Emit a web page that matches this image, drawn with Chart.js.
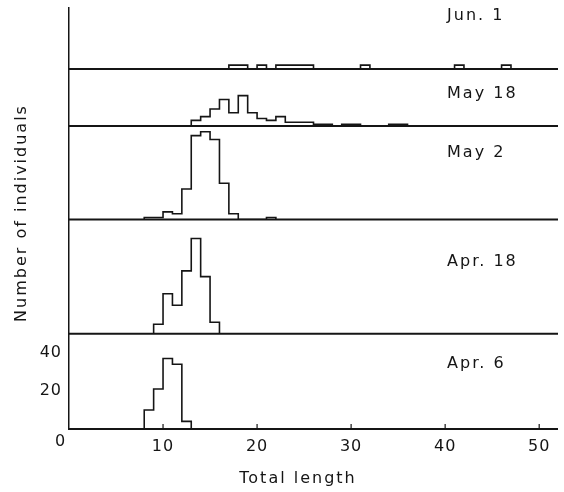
<!DOCTYPE html>
<html>
<head>
<meta charset="utf-8">
<script src="https://cdn.jsdelivr.net/npm/chart.js@4.4.1/dist/chart.umd.min.js"></script>
<style>
  body { margin: 0; background: #fff; }
  #wrap { width: 564px; height: 492px; }
</style>
</head>
<body>
<div id="wrap"><canvas id="lengthChart"></canvas></div>
<script>
// Length frequency panels, top to bottom
const panelNames = ["Jun. 1", "May 18", "May 2", "Apr. 18", "Apr. 6"];
const panelIds = ["yJun1", "yMay18", "yMay2", "yApr18", "yApr6"];
// first bin (total length) of each panel, bins are 1 unit wide
const binStarts = [17, 13, 8, 9, 8];
const jun1Counts = [2, 2, 0, 2, 0, 2, 2, 2, 2, 0, 0, 0, 0, 0, 2, 0, 0, 0, 0, 0, 0, 0, 0, 0, 2, 0, 0, 0, 0, 2];
const may18Counts = [3, 5, 9, 14, 7, 16, 7, 4, 3, 5, 2, 2, 2, 1, 1, 0, 1, 1, 0, 0, 0, 1, 1];
const may2Counts = [1, 1, 4, 3, 16, 44, 46, 42, 19, 3, 0, 0, 0, 1];
const apr18Counts = [5, 21, 15, 33, 50, 30, 6];
const apr6Counts = [10, 21, 37, 34, 4];
const panelCounts = [jun1Counts, may18Counts, may2Counts, apr18Counts, apr6Counts];
// vertical range of each panel (same scale for all)
const panelMax = [32, 30, 49, 60, 50];
const xTicks = [0, 10, 20, 30, 40, 50];
const yTicks = [20, 40];

const ink = "#151515";
const fontFamily = "'DejaVu Sans', sans-serif";
// where the date labels sit (x in length units, y in panel units)
const labelX = 40.2;
const labelAt = [28, 17, 35, 38, 34];

// histogram outline as a stepped line
function outline(start, counts) {
  const pts = [{ x: start, y: 0 }];
  counts.forEach((c, i) => pts.push({ x: start + i, y: c }));
  pts.push({ x: start + counts.length, y: 0 });
  return pts;
}

const datasets = panelIds.map((id, i) => ({
  label: panelNames[i],
  data: outline(binStarts[i], panelCounts[i]),
  yAxisID: id,
  stepped: "before",
  borderColor: ink,
  borderWidth: 1.6,
  pointRadius: 0,
  fill: false,
}));

const scales = {
  x: {
    type: "linear",
    min: 0,
    max: 52,
    grid: { display: false, drawTicks: false },
    border: { display: false },
    afterBuildTicks: (s) => { s.ticks = xTicks.map((v) => ({ value: v })); },
    afterFit: (s) => { s.height = 63; },
    ticks: {
      padding: 8,
      color: ink,
      font: { family: fontFamily, size: 16 },
      maxRotation: 0,
      callback: (v) => (v === 0 ? "" : v),
    },
  },
};
// defined bottom first so the last one lands on top of the stack
for (let i = panelIds.length - 1; i >= 0; i--) {
  scales[panelIds[i]] = {
    type: "linear",
    position: "left",
    stack: "panels",
    stackWeight: panelMax[i],
    min: 0,
    max: panelMax[i],
    offset: false,
    grid: { display: false, drawTicks: false },
    border: { display: true, color: ink, width: 1.5 },
    afterBuildTicks: (s) => { s.ticks = yTicks.map((v) => ({ value: v })); },
    afterFit: (s) => {
      s.width = 69;
      s.paddingTop = 0;
      s.paddingBottom = 0;
    },
    ticks: {
      display: i === panelIds.length - 1,
      padding: 7,
      color: ink,
      font: { family: fontFamily, size: 16 },
    },
  };
}

const panelDecor = {
  id: "panelDecor",
  beforeDraw(chart) {
    chart.ctx.letterSpacing = "1px";
  },
  afterDraw(chart) {
    const { ctx, chartArea, scales } = chart;
    const x = scales.x;
    ctx.save();
    ctx.strokeStyle = ink;
    ctx.fillStyle = ink;
    ctx.font = "16px " + fontFamily;
    ctx.letterSpacing = "2px";
    ctx.textBaseline = "middle";
    panelIds.forEach((id, i) => {
      const s = scales[id];
      const y0 = s.getPixelForValue(0);
      ctx.lineWidth = 2;
      ctx.beginPath();
      ctx.moveTo(chartArea.left, y0);
      ctx.lineTo(chartArea.right, y0);
      ctx.stroke();
      ctx.textAlign = "left";
      ctx.fillText(panelNames[i], x.getPixelForValue(labelX), s.getPixelForValue(labelAt[i]));
    });

    // small inward ticks on the bottom axis
    const yb = scales.yApr6.getPixelForValue(0);
    ctx.lineWidth = 1.2;
    xTicks.slice(1).forEach((v) => {
      const px = x.getPixelForValue(v);
      ctx.beginPath();
      ctx.moveTo(px, yb);
      ctx.lineTo(px, yb - 5);
      ctx.stroke();
    });

    // shared zero, set a bit left of the corner
    ctx.textAlign = "center";
    ctx.fillText("0", chartArea.left - 8, yb + 13);

    // axis titles
    ctx.fillText("Total length", 298, 479);
    ctx.translate(22, 213);
    ctx.rotate(-Math.PI / 2);
    ctx.fillText("Number of individuals", 0, 0);
    ctx.restore();
  },
};

new Chart(document.getElementById("lengthChart"), {
  type: "line",
  data: { datasets },
  options: {
    responsive: true,
    maintainAspectRatio: false,
    animation: false,
    layout: { padding: { top: 8, right: 6, left: 0, bottom: 0 } },
    plugins: {
      legend: { display: false },
      tooltip: { enabled: false },
    },
    scales,
  },
  plugins: [panelDecor],
});
</script>
</body>
</html>
